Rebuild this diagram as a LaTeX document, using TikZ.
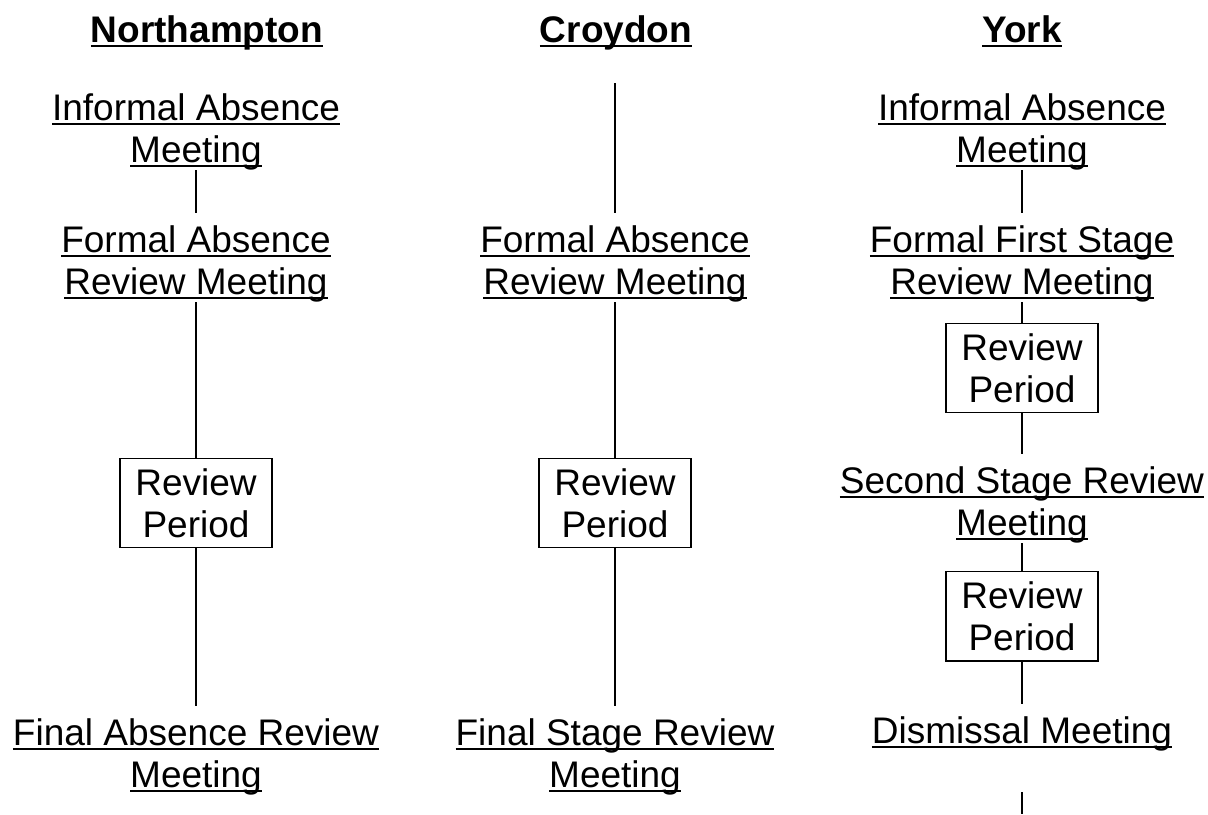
\documentclass[tikz,border=0pt]{standalone}
\usepackage{fontspec}
\setmainfont{Liberation Sans}
\usepackage{tikz}

% underline as a rule below the baseline
\newcommand{\ulbox}[1]{\setbox0\hbox{#1}\rlap{\vrule width\wd0 height-1.5pt depth2.3pt}\box0}

\begin{document}
\begin{tikzpicture}[
                x=0.5pt, y=-0.5pt,            % pixel grid, y downwards
                every node/.style={
                    font=\fontsize{18.5}{21}\selectfont,
                    align=center,
                    inner sep=0pt
                },
                head/.style={font=\fontsize{18.5}{21}\selectfont\bfseries, anchor=base},
                stage/.style={anchor=north},
                period/.style={draw, line width=0.9pt, inner xsep=7.5pt, inner ysep=5pt},
                link/.style={line width=0.9pt},
                gap/.style={link, shorten >=6pt}
            ]
                \useasboundingbox (0,0) rectangle (1208,814);

                % headings
                \node[head] (hN) at (207,42) {\ulbox{Northampton}};
                \node[head] (hC) at (616,42) {\ulbox{Croydon}};
                \node[head] (hY) at (1022,42) {\ulbox{York}};

                % Northampton
                \node[stage] (nInf) at (196,93) {\ulbox{Informal Absence}\\\ulbox{Meeting}};
                \node[stage] (nFor) at (196,225) {\ulbox{Formal Absence}\\\ulbox{Review Meeting}};
                \node[period] (nRev) at (196,503) {Review\\Period};
                \node[stage] (nFin) at (196,718) {\ulbox{Final Absence Review}\\\ulbox{Meeting}};

                % Croydon
                \coordinate (cTop) at (615,83);
                \node[stage] (cFor) at (615,225) {\ulbox{Formal Absence}\\\ulbox{Review Meeting}};
                \node[period] (cRev) at (615,503) {Review\\Period};
                \node[stage] (cFin) at (615,718) {\ulbox{Final Stage Review}\\\ulbox{Meeting}};

                % York
                \node[stage] (yInf) at (1022,93) {\ulbox{Informal Absence}\\\ulbox{Meeting}};
                \node[stage] (yFor) at (1022,225) {\ulbox{Formal First Stage}\\\ulbox{Review Meeting}};
                \node[period] (yRevA) at (1022,368) {Review\\Period};
                \node[stage] (ySec) at (1022,466) {\ulbox{Second Stage Review}\\\ulbox{Meeting}};
                \node[period] (yRevB) at (1022,616) {Review\\Period};
                \node[stage] (yDis) at (1022,716) {\ulbox{Dismissal Meeting}};
                \coordinate (yStub) at (1022,792);
                \coordinate (yEnd) at (1022,814);

                % lines
                \draw[gap] (nInf) -- (nFor);
                \draw[link] (nFor) -- (nRev);
                \draw[gap] (nRev) -- (nFin);

                \draw[gap] (cTop) -- (cFor);
                \draw[link] (cFor) -- (cRev);
                \draw[gap] (cRev) -- (cFin);

                \draw[gap] (yInf) -- (yFor);
                \draw[link] (yFor) -- (yRevA);
                \draw[gap] (yRevA) -- (ySec);
                \draw[link] (ySec) -- (yRevB);
                \draw[gap] (yRevB) -- (yDis);
                \draw[link] (yStub) -- (yEnd);
            \end{tikzpicture}
\end{document}
